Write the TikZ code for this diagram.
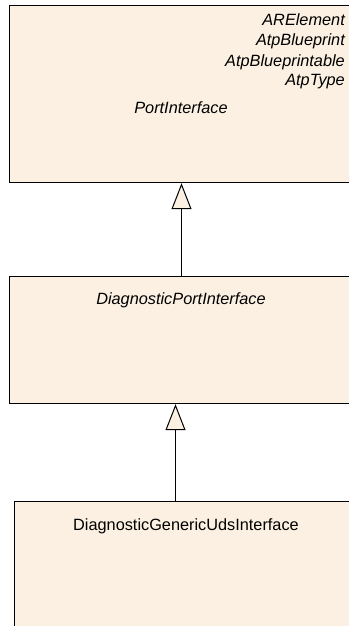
\documentclass[tikz,border=0pt]{standalone}
\usepackage{fontspec}
\setmainfont{Liberation Sans}
\usetikzlibrary{arrows.meta, calc, positioning}
\definecolor{umlfill}{RGB}{251,240,226}
\tikzset{
  classbox/.style = {draw, line width=1.2pt, fill=umlfill, rectangle, anchor=north west, inner sep=0pt},
  inherit/.style  = {-{Triangle[open, length=26pt, width=20pt, fill=umlfill]}, line width=1pt, black},
  lbl/.style      = {font=\fontsize{16.3}{19}\selectfont, inner sep=0pt},
  stereo/.style   = {lbl, font=\fontsize{16.3}{19}\selectfont\itshape, anchor=east},
}

\begin{document}
\begin{tikzpicture}[x=1pt, y=-1pt]
  \useasboundingbox[fill=white] (0,0) rectangle (348,626);
  % class boxes
  \node[classbox, minimum width=360pt, minimum height=177pt] (portif) at (9,5) {};
  \node[classbox, minimum width=360pt, minimum height=127pt] (diagport) at (9,276) {};
  \node[classbox, minimum width=360pt, minimum height=140pt] (genuds) at (14,501) {};
  % names and parents
  \node[stereo] (arel) at (345,20) {ARElement};
  \node[stereo] (atpbp) at (345,41) {AtpBlueprint};
  \node[stereo] (atpbpt) at (345,62) {AtpBlueprintable};
  \node[stereo] (atptype) at (345,82) {AtpType};
  \node[lbl, font=\fontsize{16.3}{19}\selectfont\itshape] (portname) at (181,108) {PortInterface};
  \node[lbl, font=\fontsize{16.3}{19}\selectfont\itshape] (diagname) at (181,300) {DiagnosticPortInterface};
  \node[lbl] (genname) at (186,526) {DiagnosticGenericUdsInterface};
  % generalisations
  \coordinate (g1) at (181.5,0);
  \coordinate (g2) at (175.5,0);
  \draw[inherit] (diagport.north -| g1) -- (portif.south -| g1);
  \draw[inherit] (genuds.north -| g2) -- (diagport.south -| g2);
\end{tikzpicture}
\end{document}
